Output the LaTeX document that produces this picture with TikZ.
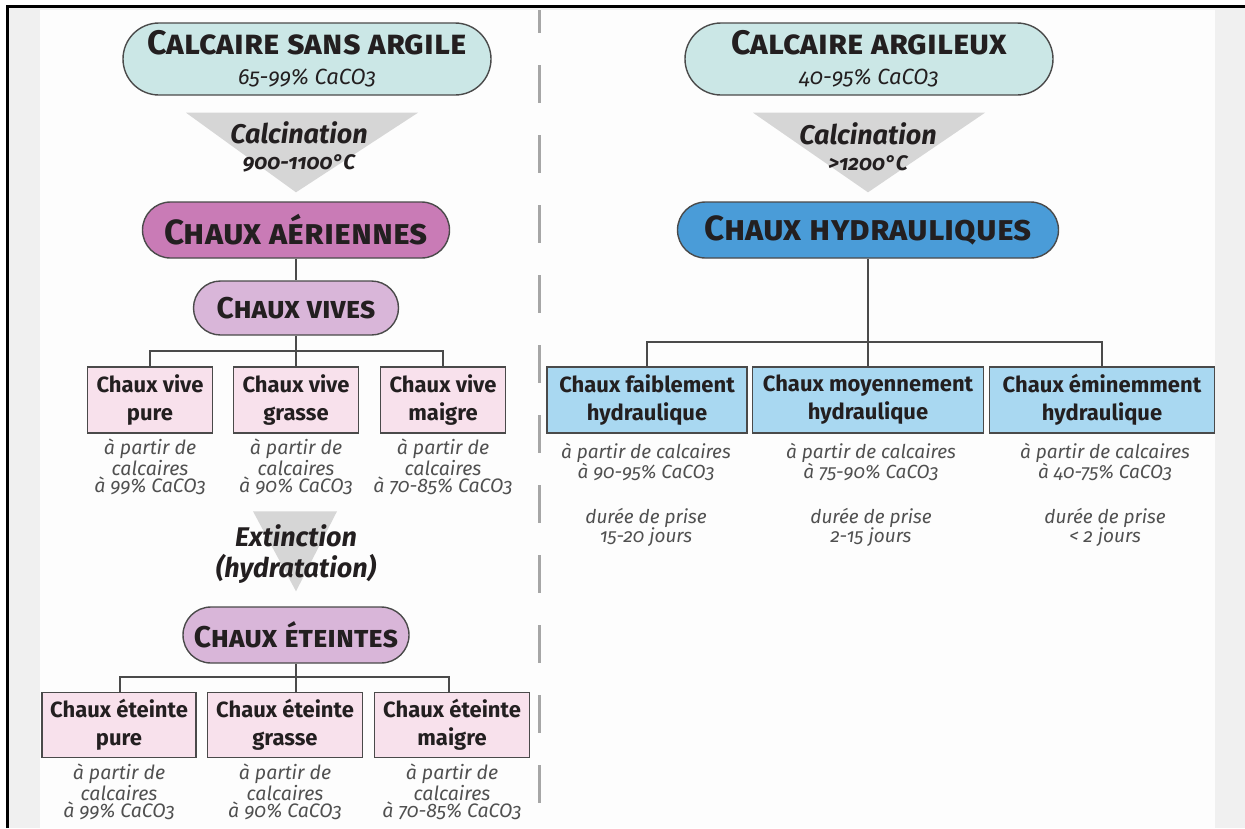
\documentclass[tikz,border=0pt]{standalone}
\usepackage{fontspec}
\setmainfont{Fira Sans}[Numbers=OldStyle]
\usetikzlibrary{positioning}

\definecolor{fond}{HTML}{F0F0F0}
\definecolor{page}{HTML}{FDFDFD}
\definecolor{encre}{HTML}{231F20}
\definecolor{trait}{HTML}{4A4A4A}
\definecolor{note}{HTML}{505050}
\definecolor{pointille}{HTML}{A6A6A6}
\definecolor{cone}{HTML}{D6D6D6}
\definecolor{turquoise}{HTML}{CBE7E6}
\definecolor{magenta}{HTML}{C97BB6}
\definecolor{lilas}{HTML}{D9B6D9}
\definecolor{rose}{HTML}{F8E1EC}
\definecolor{bleu}{HTML}{4A9CD8}
\definecolor{bleuclair}{HTML}{A9D8F1}

\begin{document}
\begin{tikzpicture}[x=1pt, y=-1pt,
    pilule/.style={rectangle, draw=trait, line width=1.4pt, inner sep=0pt, align=center, text=encre},
    roche/.style={pilule, fill=turquoise, rounded corners=36pt, minimum width=368pt, minimum height=72pt,
                  font=\fontsize{34}{35}\selectfont},
    famille/.style={pilule, rounded corners=28pt, minimum height=56pt,
                  font=\fontsize{35}{36}\selectfont\bfseries\scshape},
    sorte/.style={pilule, fill=lilas, rounded corners=27pt, minimum height=54pt,
                  font=\fontsize{30}{32}\selectfont\bfseries\scshape},
    chaux/.style={rectangle, draw=trait, line width=1.2pt, inner sep=0pt, minimum height=66pt, align=center,
                  text=encre, font=\fontsize{22}{28}\selectfont\bfseries},
    origine/.style={align=center, text=note, inner sep=0pt, font=\fontsize{19.5}{17.5}\selectfont\itshape},
    procede/.style={align=center, text=encre, inner sep=0pt, font=\fontsize{27}{31}\selectfont\bfseries\itshape},
    lien/.style={draw=trait, line width=1.2pt},
    cone/.style={fill=cone}
]
    \useasboundingbox (0,0) rectangle (1245,828);
    \fill[white] (0,0) rectangle (1245,828);
    \fill[fond] (7,6) rectangle (1245,828);
    \fill[page] (40,10) rectangle (1215,828);
    \draw[line width=3pt] (7,828) -- (7,6) -- (1245,6);
    \draw[pointille, line width=3pt, dash pattern=on 38pt off 32pt, dash phase=15pt] (539,10) -- (539,828);

    % chaux aeriennes
    \node[roche] (sansargile) at (307,59) {{\bfseries\scshape Calcaire sans argile}\\[-5pt]{\fontsize{22}{24}\selectfont\itshape 65-99\% CaCO3}};
    \node[famille, fill=magenta, minimum width=307pt] (aeriennes) at (296,230) {Chaux aériennes};
    \fill[cone] ([xshift=-121pt, yshift=-17pt]sansargile.south) -- ([xshift=111pt, yshift=-17pt]sansargile.south) -- ([yshift=9pt]aeriennes.north) -- cycle;
    \node[procede] (calcA) at (299,147) {Calcination\\[-5pt]{\fontsize{21}{22}\selectfont 900-1100°C}};

    \node[sorte, minimum width=205pt] (vives) at (296,308) {Chaux vives};
    \node[chaux, fill=rose, minimum width=125pt] (vpure)   at (150,400) {Chaux vive\\pure};
    \node[chaux, fill=rose, minimum width=125pt] (vgrasse) at (296,400) {Chaux vive\\grasse};
    \node[chaux, fill=rose, minimum width=125pt] (vmaigre) at (443,400) {Chaux vive\\maigre};
    \node[origine] (ovpure)   at (150,467) {à partir de\\calcaires\\à 99\% CaCO3};
    \node[origine] (ovgrasse) at (296,467) {à partir de\\calcaires\\à 90\% CaCO3};
    \node[origine] (ovmaigre) at (443,467) {à partir de\\calcaires\\à 70-85\% CaCO3};

    \node[sorte, minimum width=226pt, minimum height=56pt, rounded corners=28pt] (eteintes) at (296,635) {Chaux éteintes};
    \fill[cone] ([xshift=-43pt, yshift=95pt]eteintes.north) -- ([xshift=41pt, yshift=95pt]eteintes.north) -- ([yshift=15pt]eteintes.north) -- cycle;
    \node[procede] (extinction) at (296,554) {Extinction\\(hydratation)};
    \node[chaux, fill=rose, minimum width=154pt, minimum height=65pt] (epure)   at (119,725) {Chaux éteinte\\pure};
    \node[chaux, fill=rose, minimum width=155pt, minimum height=65pt] (egrasse) at (285,725) {Chaux éteinte\\grasse};
    \node[chaux, fill=rose, minimum width=155pt, minimum height=65pt] (emaigre) at (452,725) {Chaux éteinte\\maigre};
    \node[origine] (oepure)   at (119,792) {à partir de\\calcaires\\à 99\% CaCO3};
    \node[origine] (oegrasse) at (285,792) {à partir de\\calcaires\\à 90\% CaCO3};
    \node[origine] (oemaigre) at (452,792) {à partir de\\calcaires\\à 70-85\% CaCO3};

    \coordinate (barvives) at (296,351);
    \coordinate (bareteintes) at (296,677);
    \draw[lien] (aeriennes) -- (vives);
    \draw[lien] (vives.south) -- (vives.south |- vgrasse.north);
    \draw[lien] (vpure.north) |- (barvives) -| (vmaigre.north);
    \draw[lien] (eteintes.south) -- (eteintes.south |- egrasse.north);
    \draw[lien] ([xshift=1pt]epure.north) |- (bareteintes) -| ([xshift=-3pt]emaigre.north);

    % chaux hydrauliques
    \node[roche] (argileux) at (869,59) {{\bfseries\scshape Calcaire argileux}\\[-5pt]{\fontsize{22}{24}\selectfont\itshape 40-95\% CaCO3}};
    \node[famille, fill=bleu, minimum width=381pt] (hydrauliques) at (868,230) {Chaux hydrauliques};
    \fill[cone] ([xshift=-116pt, yshift=-17pt]argileux.south) -- ([xshift=116pt, yshift=-17pt]argileux.south) -- ([yshift=9pt]hydrauliques.north) -- cycle;
    \node[procede] (calcB) at (868,147) {Calcination\\[-5pt]{\fontsize{21}{22}\selectfont >1200°C}};

    \node[chaux, fill=bleuclair, minimum width=200pt] (faible)   at (647,400) {Chaux faiblement\\hydraulique};
    \node[chaux, fill=bleuclair, minimum width=231pt] (moyen)    at (868,400) {Chaux moyennement\\hydraulique};
    \node[chaux, fill=bleuclair, minimum width=225pt] (eminent)  at (1102,400) {Chaux éminemment\\hydraulique};
    \node[origine, font=\fontsize{19}{16.5}\selectfont\itshape] (ofaible)  at (646,495) {à partir de calcaires\\à 90-95\% CaCO3\\[26pt]durée de prise\\15-20 jours};
    \node[origine, font=\fontsize{19}{16.5}\selectfont\itshape] (omoyen)   at (871,495) {à partir de calcaires\\à 75-90\% CaCO3\\[26pt]durée de prise\\2-15 jours};
    \node[origine, font=\fontsize{19}{16.5}\selectfont\itshape] (oeminent) at (1105,495) {à partir de calcaires\\à 40-75\% CaCO3\\[26pt]durée de prise\\< 2 jours};

    \coordinate (barhydro) at (868,342);
    \draw[lien] (hydrauliques.south) -- (hydrauliques.south |- moyen.north);
    \draw[lien] (faible.north) |- (barhydro) -| (eminent.north);
\end{tikzpicture}
\end{document}
